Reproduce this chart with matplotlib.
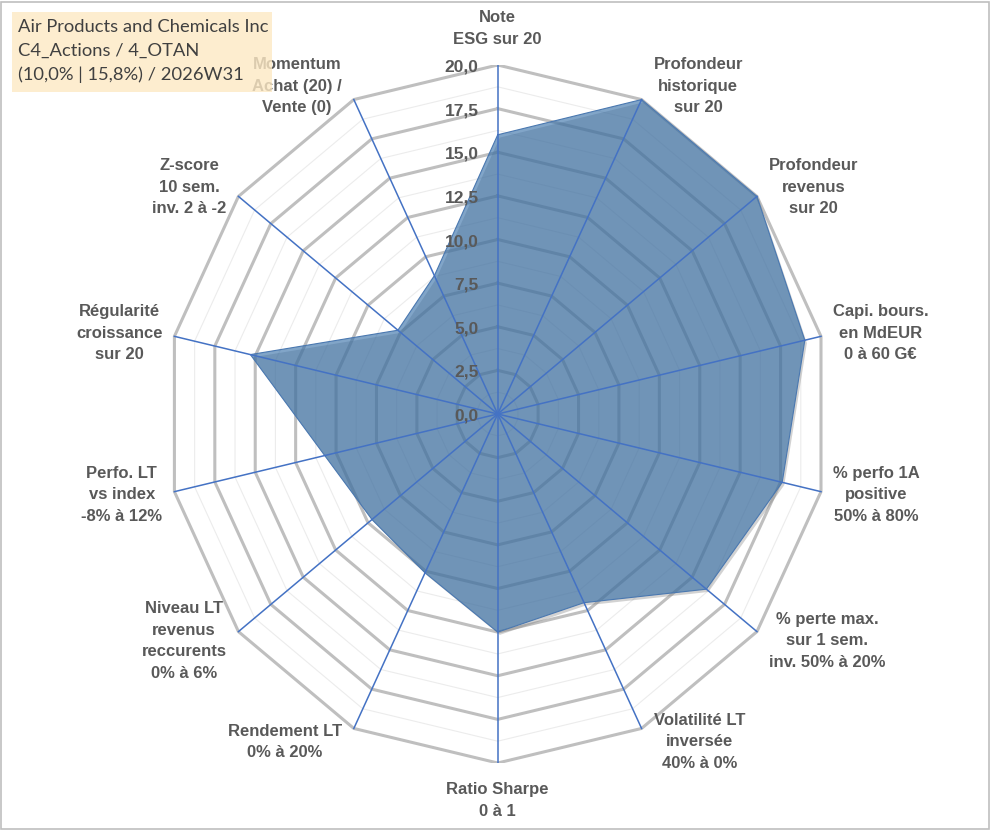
import numpy as np
import matplotlib.pyplot as plt
import matplotlib.transforms as mtransforms
from matplotlib.patches import Rectangle

# =========================
# 1. Données
# =========================
categories = [
    "Note\nESG sur 20",
    "Profondeur\nhistorique\nsur 20",
    "Profondeur\nrevenus\nsur 20",
    "Capi. bours.\nen MdEUR\n0 à 60 G€",
    "% perfo 1A\npositive\n50% à 80%",
    "% perte max.\nsur 1 sem.\ninv. 50% à 20%",
    "Volatilité LT\ninversée\n40% à 0%",
    "Ratio Sharpe\n0 à 1",
    "Rendement LT\n0% à 20%",
    "Niveau LT\nrevenus\nreccurents\n0% à 6%",
    "Perfo. LT\nvs index\n-8% à 12%",
    "Régularité\ncroissance\nsur 20",
    "Z-score\n10 sem.\ninv. 2 à -2",
    "Momentum\nAchat (20) /\nVente (0)",
]
valeurs = [16.0, 20.0, 20.0, 19.0, 17.6, 16.1, 12.0, 12.5, 10.1, 9.7, 10.7, 15.3, 7.7, 8.8]
graduations = [0.0, 2.5, 5.0, 7.5, 10.0, 12.5, 15.0, 17.5, 20.0]
titre_lignes = [
    "Air Products and Chemicals Inc",
    "C4_Actions / 4_OTAN",
    "(10,0% | 15,8%) / 2026W31",
]
r_max = 20.0

# =========================
# 2. Figure
# =========================
fig = plt.figure(figsize=(9.91, 8.30), dpi=100)
ax = fig.add_axes([166.1 / 991, (830 - 763) / 830, 663.2 / 991, 698 / 830])
ax.set_xlim(-r_max, r_max)
ax.set_ylim(-r_max, r_max)
ax.axis("off")

n = len(categories)
angles = np.arange(n) * 2 * np.pi / n
angles_f = np.append(angles, angles[0])


def polaire(r, a):
    return r * np.sin(a), r * np.cos(a)


# Grille polygonale
mineures = [g + 1.25 for g in graduations[:-1]]
for g in mineures:
    x, y = polaire(g, angles_f)
    ax.plot(x, y, color="#ececec", lw=0.8, zorder=1)
for g in graduations[1:]:
    x, y = polaire(g, angles_f)
    ax.plot(x, y, color="#bfbfbf", lw=2.2, zorder=1, solid_joinstyle="miter")

# Série
vals_f = np.append(valeurs, valeurs[0])
x, y = polaire(vals_f, angles_f)
ombre = ax.transData + mtransforms.ScaledTranslation(1.5 / 72, -2 / 72, fig.dpi_scale_trans)
ax.fill(x, y, color="#808080", alpha=0.35, lw=0, zorder=2, transform=ombre)
ax.fill(x, y, color=(52 / 255, 110 / 255, 167 / 255), alpha=0.62, lw=0, zorder=3)
ax.plot(x, y, color="#4a78b0", lw=0.8, zorder=3)

# Rayons
for a in angles:
    xe, ye = polaire(r_max, a)
    ax.plot([0, xe], [0, ye], color="#4472C4", lw=1.1, zorder=4)

# Graduations
for g in graduations:
    ax.annotate(f"{g:.1f}".replace(".", ","), xy=(0, g), xytext=(-19, -2),
                textcoords="offset pixels", ha="right", va="center",
                fontsize=12.5, fontweight="bold", color="#595959",
                family="Liberation Sans", zorder=5)

# Étiquettes des catégories
for lab, a in zip(categories, angles):
    xe, ye = polaire(r_max, a)
    s, c = np.sin(a), np.cos(a)
    if abs(s) < 1e-6:
        ha = "center"
        va = "bottom" if c > 0 else "top"
        dx, dy = 0, (18 if c > 0 else -19)
    else:
        ha = "left" if s > 0 else "right"
        va = "center"
        dx, dy = 12 * np.sign(s), 15 * c
    ax.annotate(lab, xy=(xe, ye), xytext=(dx, dy), textcoords="offset pixels",
                ha=ha, va=va, multialignment="center", linespacing=1.55,
                fontsize=12, fontweight="bold", color="#595959",
                family="Liberation Sans", annotation_clip=False, zorder=5)

# Cartouche titre
fig.add_artist(Rectangle((12 / 991, 1 - 92 / 830), 260 / 991, 80 / 830,
                         transform=fig.transFigure, facecolor="#fde9c4",
                         edgecolor="none", alpha=0.8, zorder=3))
for i, t in enumerate(titre_lignes):
    fig.text(18 / 991, 1 - (27 + i * 24) / 830, t, ha="left", va="center",
             fontsize=13.2, color="#404040", family="Lato", zorder=4)

# Bordure
fig.add_artist(Rectangle((1 / 991, 1 / 830), 988 / 991, 827 / 830,
                         transform=fig.transFigure, facecolor="none",
                         edgecolor="#bfbfbf", lw=1.2, zorder=5))

plt.savefig("out.png", dpi=100)
plt.close()
